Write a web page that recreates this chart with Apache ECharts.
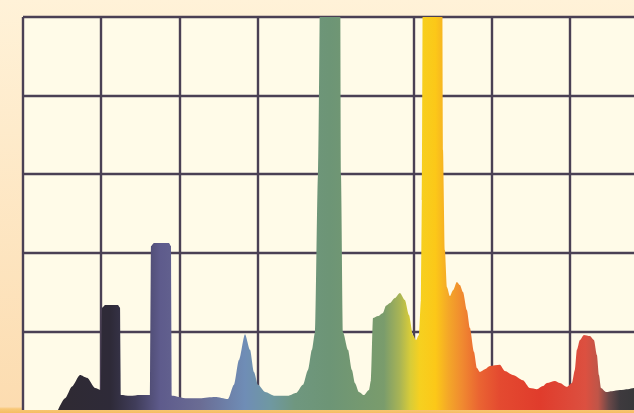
<!DOCTYPE html>
<html>
<head>
<meta charset="utf-8">
<script src="https://cdn.jsdelivr.net/npm/echarts@6/dist/echarts.min.js"></script>
<style>
html,body{margin:0;padding:0;background:#fdebc8;}
#c{width:634px;height:413px;}
</style>
</head>
<body>
<div id="c"></div>
<script>
// Wavelength (nm) along the spectrum outline
const wavelengths = [
  402.4, 406.9, 411.4, 416.5, 421.0, 426.1, 429.9,
  430.6, 432.5, 440.8, 442.1, 442.7,
  448.5, 454.9, 461.3,
  461.9, 463.8, 473.4, 474.7, 475.3,
  483.7, 493.3, 502.9, 511.2,
  515.0, 518.2, 522.1, 525.3, 527.8, 530.4, 534.9, 541.3, 549.6,
  554.7, 559.2, 562.4, 564.9, 566.9, 568.8, 570.7,
  582.8, 583.5, 584.8, 588.0, 590.5, 592.4, 595.0, 598.2, 601.4, 602.7,
  604.0, 607.2, 610.4, 612.3, 614.8, 618.0, 621.2, 624.4, 627.0, 629.6, 631.5, 633.4,
  634.7, 635.3, 636.0,
  648.1, 648.8, 650.0, 651.3, 653.2, 655.2, 657.7, 659.6, 661.6, 664.1, 666.0, 668.6, 670.5,
  672.4, 675.6, 678.8, 685.2, 688.4, 693.5, 699.9, 704.4, 708.9, 712.7, 715.3, 720.4, 723.6,
  728.1, 731.3, 733.2, 734.5, 736.4, 739.0, 742.8, 745.4, 747.3, 748.6, 749.9,
  753.1, 756.9, 762.0, 767.2, 771.0, 780.0
];
// Relative intensity (%) at each wavelength
const intensity = [
  0, 3.0, 6.0, 8.9, 8.2, 5.6, 5.1,
  26.0, 26.7, 26.7, 26.0, 3.8,
  3.6, 3.8, 3.8,
  41.7, 42.5, 42.5, 41.7, 3.6,
  3.0, 3.0, 3.3, 2.8,
  6.4, 12.7, 19.3, 15.3, 9.7, 6.4, 4.6, 3.6, 3.6,
  4.3, 6.4, 10.2, 15.3, 19.8, 59.8, 130,
  130, 59.8, 19.8, 15.3, 10.2, 6.9, 4.6, 3.8, 5.1, 7.6,
  23.4, 23.9, 24.7, 26.5, 27.2, 28.5, 29.8, 28.0, 24.2, 19.1, 17.8, 19.1,
  28.0, 53.4, 130,
  130, 66.2, 40.7, 31.3, 29.0, 30.5, 32.6, 31.8, 30.0, 25.4, 20.9, 14.8, 10.7,
  9.7, 10.4, 11.2, 11.5, 9.9, 8.9, 7.6, 5.6, 5.3, 6.1, 6.9, 7.4, 6.9,
  5.9, 6.9, 10.2, 15.3, 17.8, 19.1, 18.8, 17.8, 14.0, 8.9, 5.6,
  4.6, 4.8, 5.1, 5.3, 5.6, 5.6
];
const xMin = 380, xMax = 780, xStep = 50;
const yMin = 0, yMax = 100, yStep = 20;

// spectral colour ramp (wavelength -> colour)
const rampNm = [404, 436, 452, 468, 493, 522, 538, 554, 576, 611, 621, 628, 634, 644, 652, 661, 672, 685, 711, 740, 748, 755, 762, 771];
const rampColor = ['#2f2a33', '#2e2a38', '#403d5a', '#5e5b8c', '#6a6c94', '#6f8db6', '#6f98a2', '#6f977f', '#6d9576', '#7a9c6c', '#a8b455', '#d8cc38', '#f6d020', '#fcc818', '#f4a828', '#f08a30', '#ea6432', '#e44a30', '#e03c2c', '#dc5040', '#c05548', '#6a4848', '#3e3a3e', '#38383a'];

const data = wavelengths.map((w, i) => [w, intensity[i]]);
const x0 = wavelengths[0], x1 = wavelengths[wavelengths.length - 1];
const stops = rampNm.map((nm, i) => ({offset: Math.min(1, Math.max(0, (nm - x0) / (x1 - x0))), color: rampColor[i]}));

const gridColor = '#4a4054';
const chart = echarts.init(document.getElementById('c'), null, {renderer: 'canvas'});
chart.setOption({
  animation: false,
  backgroundColor: {
    type: 'linear', x: 0, y: 0, x2: 0, y2: 1,
    colorStops: [
      {offset: 0, color: '#fff2d8'},
      {offset: 0.985, color: '#fcdcb0'},
      {offset: 0.99, color: '#f8c878'},
      {offset: 1, color: '#f5bd60'}
    ]
  },
  grid: {
    left: 23, top: 17, width: 625, height: 393,
    outerBoundsMode: 'none', containLabel: false,
    show: true, backgroundColor: '#fffbe8', borderWidth: 0
  },
  xAxis: {
    type: 'value', min: xMin, max: xMax, interval: xStep,
    axisLine: {show: false}, axisTick: {show: false}, axisLabel: {show: false},
    splitLine: {show: true, showMinLine: true, showMaxLine: true, lineStyle: {color: gridColor, width: 2.4}}
  },
  yAxis: {
    type: 'value', min: yMin, max: yMax, interval: yStep,
    axisLine: {show: false}, axisTick: {show: false}, axisLabel: {show: false},
    splitLine: {show: true, showMinLine: false, showMaxLine: true, lineStyle: {color: gridColor, width: 2.4}}
  },
  series: [{
    type: 'line',
    data: data,
    clip: true,
    showSymbol: false,
    smooth: 0.25,
    smoothMonotone: 'x',
    lineStyle: {width: 0, opacity: 0},
    areaStyle: {
      opacity: 1,
      color: {type: 'linear', x: 0, y: 0, x2: 1, y2: 0, colorStops: stops}
    }
  }]
});
</script>
</body>
</html>
